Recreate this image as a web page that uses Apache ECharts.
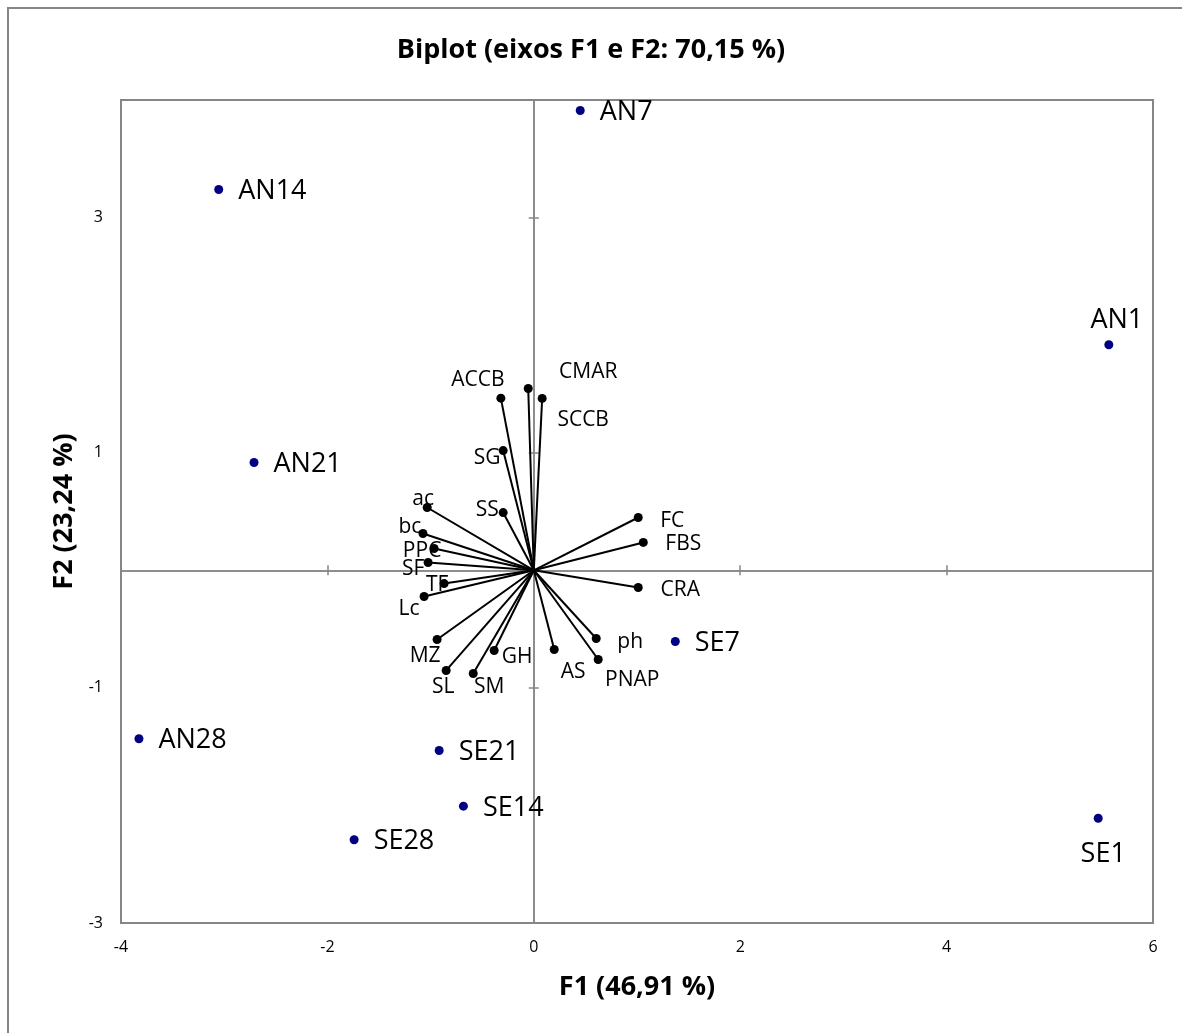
<!DOCTYPE html>
<html>
<head>
<meta charset="utf-8">
<title>Biplot (eixos F1 e F2)</title>
<script src="https://cdn.jsdelivr.net/npm/echarts@6/dist/echarts.min.js"></script>
<style>
  html, body { margin: 0; padding: 0; background: #fff; }
  #chart { width: 1182px; height: 1033px; }
</style>
</head>
<body>
<div id="chart"></div>
<script>
// observações (scores)
const obsNames = ['AN7', 'AN14', 'AN1', 'AN21', 'SE7', 'AN28', 'SE21', 'SE14', 'SE28', 'SE1'];
const obsX = [0.450, -3.053, 5.572, -2.711, 1.371, -3.826, -0.917, -0.682, -1.741, 5.469];
const obsY = [3.911, 3.239, 1.918, 0.917, -0.606, -1.433, -1.533, -2.006, -2.292, -2.109];

// variáveis (loadings)
const varNames = ['ACCB', 'CMAR', 'SCCB', 'SG', 'SS', 'ac', 'bc', 'PPC', 'SF', 'TF', 'Lc',
  'MZ', 'SL', 'SM', 'GH', 'AS', 'ph', 'PNAP', 'CRA', 'FBS', 'FC'];
const varX = [-0.319, -0.054, 0.081, -0.297, -0.297, -1.033, -1.074, -0.966, -1.024, -0.869, -1.063,
  -0.937, -0.849, -0.587, -0.384, 0.198, 0.605, 0.624, 1.012, 1.061, 1.012];
const varY = [1.464, 1.546, 1.462, 1.018, 0.491, 0.534, 0.313, 0.185, 0.066, -0.113, -0.223,
  -0.589, -0.852, -0.878, -0.682, -0.674, -0.580, -0.759, -0.146, 0.237, 0.449];

// eixos
const xRange = [-4, 6];
const yRange = [-3, 4];
const tickStep = 2;

// deslocamento dos rótulos (px)
const varLabelOffset = {
  ACCB: [-23, -18], CMAR: [60, -17], SCCB: [41, 22], SG: [-16, 7], SS: [-16, -3],
  ac: [-4, -8], bc: [-13, -6], PPC: [-12, 2], SF: [-15, 6], TF: [-7, 1], Lc: [-15, 13],
  MZ: [-12, 16], SL: [-3, 17], SM: [16, 14], GH: [23, 7], AS: [19, 22], ph: [34, 4],
  PNAP: [34, 20], CRA: [42, 3], FBS: [40, 2], FC: [34, 4]
};
const obsLabelOffset = { AN1: [8, -24], SE1: [5, 36] };

const FONT = '"Open Sans", "Noto Sans", sans-serif';
const GRAY = '#868686';

const chart = echarts.init(document.getElementById('chart'));

const xBase = { type: 'value', min: xRange[0], max: xRange[1], interval: tickStep, splitLine: { show: false } };
const yBase = { type: 'value', min: yRange[0], max: yRange[1], interval: tickStep, splitLine: { show: false } };
const zeroLine = { show: true, onZero: true, onZeroAxisIndex: 0, lineStyle: { color: GRAY, width: 1.5 } };
const tickStyle = { color: GRAY, width: 1.5 };

const option = {
  backgroundColor: '#fff',
  animation: false,
  title: {
    text: 'Biplot (eixos F1 e F2: 70,15 %)',
    left: 'center',
    top: 37,
    padding: [0, 0, 0, 12],
    textStyle: { fontFamily: FONT, fontSize: 27, fontWeight: 'bold', color: '#000' }
  },
  graphic: [{
    type: 'rect',
    shape: { x: 8, y: 8, width: 1300, height: 1200 },
    style: { fill: 'none', stroke: GRAY, lineWidth: 2 },
    silent: true
  }],
  grid: {
    left: 121, right: 29, top: 100, bottom: 110,
    show: true, borderColor: GRAY, borderWidth: 2,
    outerBoundsMode: 'none'
  },
  xAxis: [
    {
      ...xBase, position: 'bottom',
      axisLine: { show: false }, axisTick: { show: false },
      axisLabel: { fontSize: 16, margin: 16, color: '#000', fontFamily: FONT },
      name: 'F1 (46,91 %)', nameLocation: 'middle', nameGap: 51,
      nameTextStyle: { fontFamily: FONT, fontSize: 27, fontWeight: 'bold', color: '#000' }
    },
    { ...xBase, position: 'bottom', axisLine: zeroLine, axisTick: { show: true, length: 5, lineStyle: tickStyle }, axisLabel: { show: false } },
    { ...xBase, position: 'bottom', axisLine: zeroLine, axisTick: { show: true, inside: true, length: 5, lineStyle: tickStyle }, axisLabel: { show: false } }
  ],
  yAxis: [
    {
      ...yBase, position: 'left',
      axisLine: { show: false }, axisTick: { show: false },
      axisLabel: { fontSize: 16, margin: 18, color: '#000', fontFamily: FONT, showMaxLabel: false },
      name: 'F2 (23,24 %)', nameLocation: 'middle', nameGap: 42,
      nameTextStyle: { fontFamily: FONT, fontSize: 27, fontWeight: 'bold', color: '#000' }
    },
    { ...yBase, position: 'left', axisLine: zeroLine, axisTick: { show: true, length: 5, lineStyle: tickStyle }, axisLabel: { show: false } },
    { ...yBase, position: 'left', axisLine: zeroLine, axisTick: { show: true, inside: true, length: 5, lineStyle: tickStyle }, axisLabel: { show: false } }
  ],
  series: [
    {
      name: 'vetores',
      type: 'lines',
      coordinateSystem: 'cartesian2d',
      xAxisIndex: 0, yAxisIndex: 0,
      silent: true,
      z: 3,
      lineStyle: { color: '#000', width: 2, opacity: 1, curveness: 0 },
      data: varNames.map((n, i) => ({ coords: [[0, 0], [varX[i], varY[i]]] }))
    },
    {
      name: 'variáveis',
      type: 'scatter',
      xAxisIndex: 0, yAxisIndex: 0,
      z: 4,
      symbolSize: 9,
      itemStyle: { color: '#000', opacity: 1 },
      label: {
        show: true, position: 'inside', formatter: '{b}',
        fontFamily: FONT, fontSize: 21, color: '#000'
      },
      data: varNames.map((n, i) => ({
        name: n, value: [varX[i], varY[i]],
        label: { offset: varLabelOffset[n] }
      }))
    },
    {
      name: 'observações',
      type: 'scatter',
      xAxisIndex: 0, yAxisIndex: 0,
      z: 5,
      symbolSize: 9,
      itemStyle: { color: '#000080', opacity: 1 },
      label: {
        show: true, position: 'right', distance: 15, offset: [0, 2], formatter: '{b}',
        fontFamily: FONT, fontSize: 27, color: '#000'
      },
      data: obsNames.map((n, i) => {
        const d = { name: n, value: [obsX[i], obsY[i]] };
        if (obsLabelOffset[n]) d.label = { position: 'inside', offset: obsLabelOffset[n] };
        return d;
      })
    }
  ]
};

chart.setOption(option);
</script>
</body>
</html>
